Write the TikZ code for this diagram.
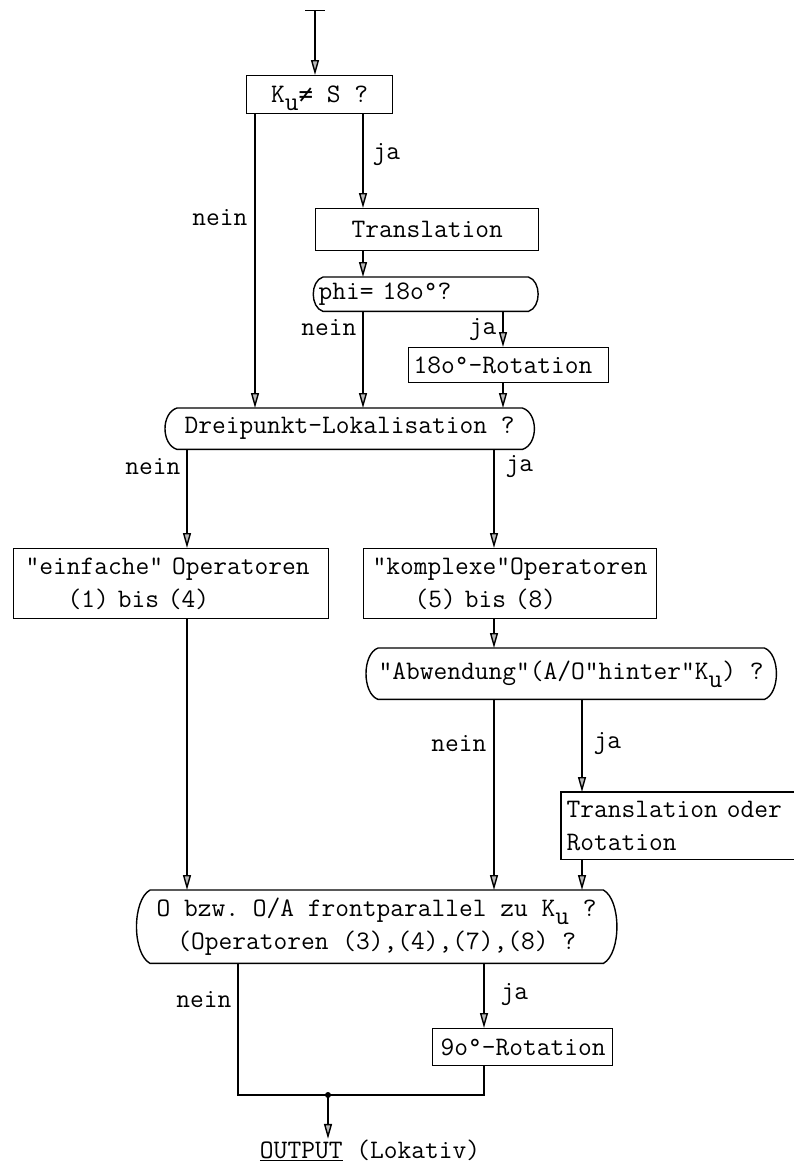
\documentclass[tikz,border=0pt]{standalone}
\usepackage{fontspec}
\setmonofont{Latin Modern Mono}
\newfontfamily\symf{DejaVu Sans Mono}
\usetikzlibrary{arrows.meta}
\newcommand\capsule[3]{\draw (#1.north west) -- (#1.north east) .. controls +(#2,#3) and +(#2,-#3) .. (#1.south east) -- (#1.south west) .. controls +(-#2,-#3) and +(-#2,#3) .. (#1.north west);}
\newcommand\sub[1]{\raisebox{-8pt}[0pt][0pt]{#1}}
\newcommand\noteq{{\symf\fontsize{24}{33}\selectfont ≠}}
\begin{document}
\begin{tikzpicture}[x=1pt,y=-1pt,
  font=\ttfamily\fontsize{26.7}{33}\selectfont,
  line width=1.4pt,
  >={Triangle[length=15pt,width=8pt,fill=gray!55]},
  box/.style={draw,rectangle,inner sep=0pt,anchor=north west},
  capbox/.style={rectangle,inner sep=0pt,anchor=north west},
  lbl/.style={inner sep=0pt}]
\useasboundingbox (0,0) rectangle (794,1162);
% boxes
\node[box,minimum width=146pt,minimum height=38pt] (a) at (246,75) {K\sub{u}\noteq\ S ?};
\node[box,minimum width=223pt,minimum height=42pt] (tr) at (315,208) {\raisebox{-5pt}{Translation}};
\node[capbox,text width=204pt,align=left,minimum height=33pt] (phi) at (323,277) {\hspace*{-5pt}phi= 18o°?};
\capsule{phi}{13}{4}
\node[box,text width=200pt,align=left,minimum height=35pt] (rot) at (408,347) {\hspace*{5pt}18o°-Rotation};
\node[capbox,minimum width=344pt,minimum height=40pt] (drei) at (177,408) {Dreipunkt-Lokalisation ?};
\capsule{drei}{16}{5}
\node[box,text width=315pt,align=left,minimum height=70pt] (ein) at (13,548) {\hspace*{12pt}"einfache" Operatoren\\\hspace*{54pt}(1) bis (4)};
\node[box,text width=293pt,align=left,minimum height=70pt] (kom) at (363,548) {\hspace*{9pt}"komplexe"Operatoren\\\hspace*{51pt}(5) bis (8)};
\node[capbox,minimum width=377pt,minimum height=50pt] (abw) at (378,648) {"Abwendung"(A/O"hinter"K\sub{u}) ?};
\capsule{abw}{16}{6}
\node[capbox,text width=240pt,align=left,minimum height=66pt] (tor) at (561,792) {\hspace*{5pt}Translation oder\\\hspace*{5pt}Rotation};
\draw (tor.north east) -- (tor.north west) -- (tor.south west) -- (tor.south east);
\node[capbox,align=center,minimum width=452pt,minimum height=72pt] (obzw) at (150,890) {O bzw. O/A frontparallel zu K\sub{u} ?\\(Operatoren (3),(4),(7),(8) ?};
\capsule{obzw}{18}{10}
\node[box,text width=180pt,align=left,minimum height=37pt] (rot9) at (432,1028) {\hspace*{8pt}9o°-Rotation};
\node[lbl] (out) at (370,1150) {\underline{OUTPUT} (Lokativ)};
% columns
\coordinate (s) at (315,10);
\coordinate (c1) at (255,0);
\coordinate (c2) at (363,0);
\coordinate (c3) at (503,0);
\coordinate (c4) at (187,0);
\coordinate (c5) at (494,0);
\coordinate (c6) at (582,0);
\coordinate (c7) at (238,0);
\coordinate (c8) at (484,0);
\coordinate (m) at (328,1095);
% connectors
\draw[arrows={Bar[width=20pt]->}] (s) -- (a.north -| s);
\draw[->] (a.south -| c1) -- (drei.north -| c1);
\draw[->] (a.south -| c2) -- (tr.north -| c2);
\draw[->] (tr.south -| c2) -- (phi.north -| c2);
\draw[->] (phi.south -| c2) -- (drei.north -| c2);
\draw[->] (phi.south -| c3) -- (rot.north -| c3);
\draw[->] (rot.south -| c3) -- (drei.north -| c3);
\draw[->] (drei.south -| c4) -- (ein.north -| c4);
\draw[->] (drei.south -| c5) -- (kom.north -| c5);
\draw[->] (ein.south -| c4) -- (obzw.north -| c4);
\draw[->] (kom.south -| c5) -- (abw.north -| c5);
\draw[->] (abw.south -| c5) -- (obzw.north -| c5);
\draw[->] (abw.south -| c6) -- (tor.north -| c6);
\draw[->] (tor.south -| c6) -- (obzw.north -| c6);
\draw[->] (obzw.south -| c8) -- (rot9.north -| c8);
\draw (obzw.south -| c7) |- (m);
\draw (rot9.south -| c8) |- (m);
\fill (m) circle (3pt);
\draw[->] (m) -- (m |- out.north);
% labels
\node[lbl,anchor=east] (l1) at (248,218) {nein};
\node[lbl,anchor=west] (l2) at (372,155) {ja};
\node[lbl,anchor=east] (l3) at (357,328) {nein};
\node[lbl,anchor=east] (l4) at (497,330) {ja};
\node[lbl,anchor=east] (l5) at (181,467) {nein};
\node[lbl,anchor=west] (l6) at (505,467) {ja};
\node[lbl,anchor=east] (l7) at (487,744) {nein};
\node[lbl,anchor=west] (l8) at (593,744) {ja};
\node[lbl,anchor=east] (l9) at (232,1000) {nein};
\node[lbl,anchor=west] (l10) at (500,995) {ja};
\end{tikzpicture}
\end{document}
